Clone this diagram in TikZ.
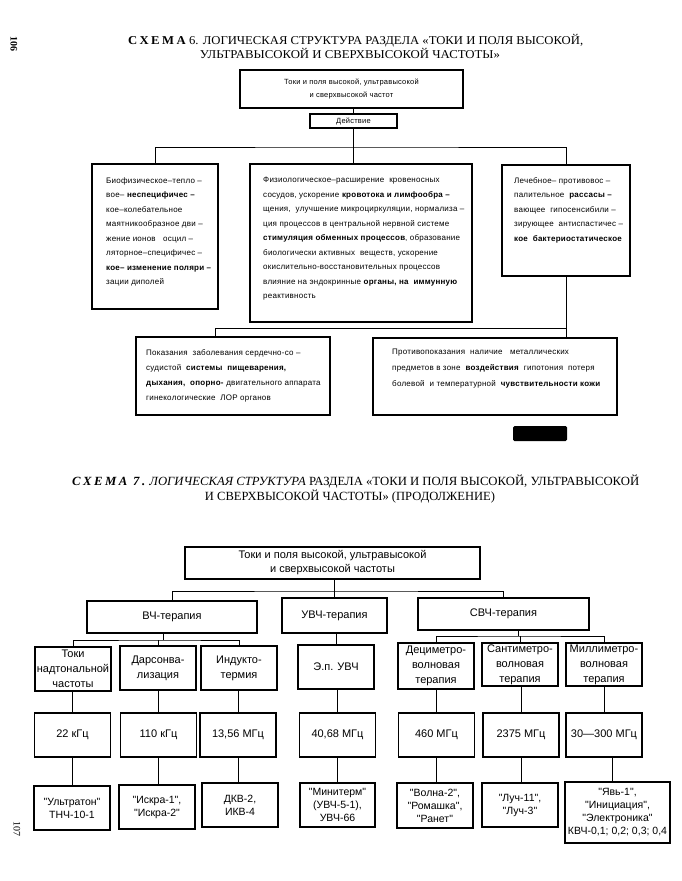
\documentclass[tikz,border=0pt]{standalone}
\usepackage{fontspec}
\usepackage{graphicx}
\setmainfont{Liberation Serif}
\newfontfamily\sansS[LetterSpace=3]{Liberation Sans}
\newfontfamily\sansR{Liberation Sans}
\newcommand\sixfont{\sansS\fontsize{8}{14.5}\selectfont}
\newcommand\sevfont{\sansR\fontsize{11}{15}\selectfont}
\newcommand\sevsmall{\sansR\fontsize{10.5}{13}\selectfont}
\begin{document}
\begin{tikzpicture}[x=1pt,y=1pt,
  box6/.style={draw, line width=1.5pt, inner sep=0pt},
  box7/.style={draw, line width=1.1pt, inner sep=0pt, align=center, font=\sevfont, minimum width=76pt},
  conn/.style={line width=0.9pt},
  txt6/.style={inner sep=0pt, anchor=north west, align=left, font=\sixfont},
  ttl/.style={inner sep=0pt}]
\useasboundingbox (0,0) rectangle (682,-881);

% page numbers
\node[rotate=-90, font=\bfseries\fontsize{10}{12}\selectfont] (p106) at (14,-44) {106};
\node[rotate=-90, font=\fontsize{10}{12}\selectfont] (p107) at (17,-829) {107};

% ---------- Scheme 6 title
\node[ttl, anchor=base west] (tt6a) at (128,-44) {\resizebox{455pt}{\height}{\fontsize{12}{14}\selectfont{\bfseries\addfontfeature{LetterSpace=20}СХЕМА} 6. ЛОГИЧЕСКАЯ СТРУКТУРА РАЗДЕЛА «ТОКИ И ПОЛЯ ВЫСОКОЙ,}};
\node[ttl, anchor=base] (tt6b) at (350,-58) {\resizebox{300pt}{\height}{\fontsize{12}{14}\selectfont УЛЬТРАВЫСОКОЙ И СВЕРХВЫСОКОЙ ЧАСТОТЫ»}};

% ---------- Scheme 6 boxes
\node[box6, minimum width=223pt, minimum height=38pt, align=center,
      font=\sansS\fontsize{7.5}{13}\selectfont] (top6) at (351.5,-89)
  {Токи и поля высокой, ультравысокой\\и сверхвысокой частот};
\node[box6, line width=1.2pt, minimum width=87pt, minimum height=14pt,
      font=\sansS\fontsize{7.5}{9}\selectfont] (act) at (353.5,-121) {Действие};
\node[box6, minimum width=126pt, minimum height=145pt] (lft) at (155,-236.5) {};
\node[box6, minimum width=222pt, minimum height=158pt] (cen) at (361,-243) {};
\node[box6, minimum width=128pt, minimum height=111pt] (rgt) at (566,-220.5) {};
\node[box6, minimum width=194pt, minimum height=78pt] (bl) at (233,-376) {};
\node[box6, minimum width=244pt, minimum height=77pt] (br) at (495,-376.5) {};

\node[txt6] (lftt) at (106,-177) {Биофизическое–тепло –\\
вое– \textbf{неспецифичес –}\\
кое–колебательное\\
маятникообразное дви –\\
жение ионов \ \ осцил –\\
ляторное–специфичес –\\
\textbf{кое– изменение поляри –}\\
зации диполей};

\node[txt6] (cent) at (263,-177) {Физиологическое–расширение \ кровеносных\\
сосудов, ускорение \textbf{кровотока и лимфообра –}\\
щения, \ улучшение микроциркуляции, нормализа –\\
ция процессов в центральной нервной системе\\
\textbf{стимуляция обменных процессов}, образование\\
биологически активных \ веществ, ускорение\\
окислительно-восстановительных процессов\\
влияние на эндокринные \textbf{органы, на \ иммунную}\\
реактивность};

\node[txt6] (rgtt) at (514,-177) {Лечебное– противовос –\\
палительное \ \textbf{рассасы –}\\
вающее \ гипосенсибили –\\
зирующее \ антиспастичес –\\
\textbf{кое \ бактериостатическое}};

\node[txt6, font=\sansS\fontsize{8}{15}\selectfont] (blt) at (146,-349) {Показания \ заболевания сердечно-со –\\
судистой \ \textbf{системы \ пищеварения,}\\
\textbf{дыхания, \ опорно-} двигательного аппарата\\
гинекологические \ ЛОР органов};

\node[txt6, font=\sansS\fontsize{8}{16}\selectfont] (brt) at (392,-349) {Противопоказания \ наличие \ \ металлических\\
предметов в зоне \ \textbf{воздействия} \ гипотония \ потеря\\
болевой \ и температурной \ \textbf{чувствительности кожи}};

% ---------- Scheme 6 connectors
\coordinate (h6) at (353,-147);
\coordinate (h6b) at (215,-328);
\draw[conn] (act.north) -- (act.north |- top6.south);
\draw[conn] (act.south) -- (act.south |- cen.north);
\draw[conn] (lft.north) |- (h6) -| (rgt.north);
\draw[conn] (rgt.south) -- (rgt.south |- br.north);
\draw[conn] (rgt.south |- h6b) -| ([xshift=-18pt]bl.north);

% blacked-out mark
\fill[black, rounded corners=1.5pt] (513,-426) rectangle (567,-441);

% ---------- Scheme 7 title
\node[ttl, anchor=base west] (tt7a) at (72,-485) {\resizebox{567pt}{\height}{\fontsize{12.5}{14}\selectfont{\bfseries\itshape\addfontfeature{LetterSpace=20}СХЕМА 7.} {\itshape ЛОГИЧЕСКАЯ СТРУКТУРА} РАЗДЕЛА «ТОКИ И ПОЛЯ ВЫСОКОЙ, УЛЬТРАВЫСОКОЙ}};
\node[ttl, anchor=base] (tt7b) at (350,-500) {\resizebox{290pt}{\height}{\fontsize{12.5}{14}\selectfont И СВЕРХВЫСОКОЙ ЧАСТОТЫ» (ПРОДОЛЖЕНИЕ)}};

% ---------- Scheme 7 boxes
\node[box7, minimum width=295pt, minimum height=32pt, font=\sansR\fontsize{11}{14}\selectfont] (t7) at (332.5,-563) {Токи и поля высокой, ультравысокой\\и сверхвысокой частоты};
\node[box7, minimum width=170pt, minimum height=32pt] (vch) at (172,-617) {ВЧ-терапия};
\node[box7, minimum width=105pt, minimum height=35pt] (uvch) at (334.5,-615.5) {УВЧ-терапия};
\node[box7, minimum width=171pt, minimum height=32pt] (svch) at (503.5,-614) {СВЧ-терапия};

\node[box7, minimum height=44pt] (toki) at (73,-669) {Токи\\надтональной\\частоты};
\node[box7, minimum height=44pt] (dars) at (158,-668) {Дарсонва-\\лизация};
\node[box7, minimum height=44pt] (ind) at (239,-668) {Индукто-\\термия};
\node[box7, minimum height=44pt] (ep) at (336,-667) {Э.п. УВЧ};
\node[box7, minimum height=46pt] (deci) at (436,-666) {Дециметро-\\волновая\\терапия};
\node[box7, minimum height=43pt] (santi) at (520,-664.5) {Сантиметро-\\волновая\\терапия};
\node[box7, minimum height=43pt] (milli) at (604,-664.5) {Миллиметро-\\волновая\\терапия};

\node[box7, minimum height=44pt] (f1) at (72.5,-735) {22 кГц};
\node[box7, minimum height=44pt] (f2) at (158.5,-735) {110 кГц};
\node[box7, minimum height=44pt] (f3) at (238,-735) {13,56 МГц};
\node[box7, minimum height=44pt] (f4) at (337.5,-735) {40,68 МГц};
\node[box7, minimum height=44pt] (f5) at (436.5,-735) {460 МГц};
\node[box7, minimum height=44pt] (f6) at (521,-735) {2375 МГц};
\node[box7, minimum height=44pt] (f7) at (604,-735) {30—300 МГц};

\node[box7, minimum height=44pt, font=\sevsmall] (d1) at (72,-808) {"Ультратон"\\ТНЧ-10-1};
\node[box7, minimum height=44pt, font=\sevsmall] (d2) at (157,-807) {"Искра-1",\\"Искра-2"};
\node[box7, minimum height=44pt, font=\sevsmall] (d3) at (240,-805) {ДКВ-2,\\ИКВ-4};
\node[box7, minimum width=75pt, minimum height=44pt, font=\sevsmall] (d4) at (337.5,-805) {"Минитерм"\\(УВЧ-5-1),\\УВЧ-66};
\node[box7, minimum height=45pt, font=\sevsmall] (d5) at (435,-805.5) {"Волна-2",\\"Ромашка",\\"Ранет"};
\node[box7, minimum height=44pt, font=\sevsmall] (d6) at (520,-805) {"Луч-11",\\"Луч-3"};
\node[box7, minimum width=105pt, minimum height=61pt, font=\sevsmall] (d7) at (617.5,-812.5) {"Явь-1",\\"Инициация",\\"Электроника"\\КВЧ-0,1; 0,2; 0,3; 0,4};

% ---------- Scheme 7 connectors
\coordinate (j7) at (334.5,-591);
\coordinate (jv) at (163,-640);
\coordinate (js) at (518,-636);
\draw[conn] (uvch.north) -- (uvch.north |- t7.south);
\draw[conn] (vch.north) |- (j7) -| (svch.north);
\draw[conn] (jv |- vch.south) -- (jv);
\draw[conn] (toki.north) |- (jv) -| (ind.north);
\draw[conn] (dars.north) -- (dars.north |- jv);
\draw[conn] (ep.north) -- (ep.north |- uvch.south);
\draw[conn] (js |- svch.south) -- (js);
\draw[conn] (deci.north) |- (js) -| (milli.north);
\draw[conn] (santi.north) -- (santi.north |- js);

\foreach \a/\b in {toki/f1, dars/f2, ind/f3, ep/f4, deci/f5, santi/f6, milli/f7}
  \draw[conn] (\b.north) -- (\b.north |- \a.south);
\foreach \a/\b in {f1/d1, f2/d2, f3/d3, f4/d4, f5/d5, f6/d6}
  \draw[conn] (\a.south) -- (\a.south |- \b.north);
\draw[conn] ([xshift=8pt]f7.south) -- ([xshift=8pt]f7.south |- d7.north);
\end{tikzpicture}
\end{document}
